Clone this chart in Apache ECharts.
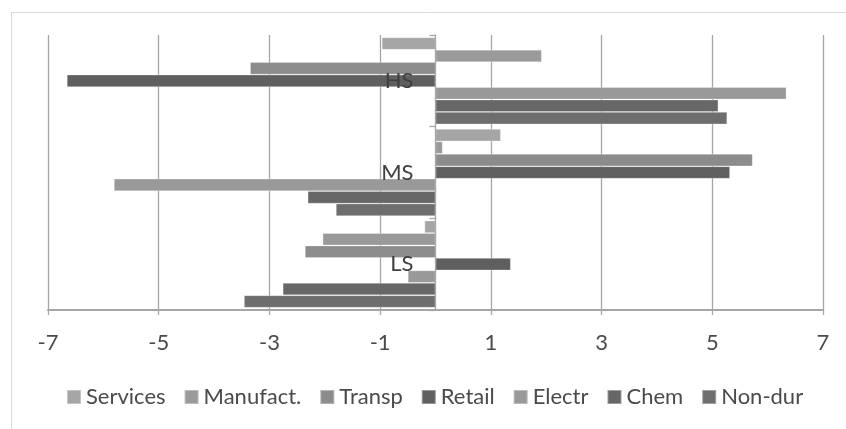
<!DOCTYPE html>
<html>
<head>
<meta charset="utf-8">
<script src="https://cdn.jsdelivr.net/npm/echarts@6/dist/echarts.min.js"></script>
<style>
  html, body { margin: 0; padding: 0; background: #ffffff; }
  #chart { width: 846px; height: 429px; }
</style>
</head>
<body>
<div id="chart"></div>
<script>
// Skill groups, bottom to top on the category axis
const categories = ['LS', 'MS', 'HS'];

// Sector names, in legend order
const sectorNames = ['Services', 'Manufact.', 'Transp', 'Retail', 'Electr', 'Chem', 'Non-dur'];

// Values per sector for LS, MS, HS
const services = [-0.20, 1.18, -0.97];
const manufact = [-2.04, 0.13, 1.92];
const transp   = [-2.36, 5.73, -3.35];
const retail   = [1.36, 5.32, -6.66];
const electr   = [-0.50, -5.81, 6.34];
const chem     = [-2.76, -2.31, 5.11];
const nonDur   = [-3.46, -1.80, 5.27];

// Value axis ticks
const xMin = -7, xMax = 7, xStep = 2;

const sectorValues = [services, manufact, transp, retail, electr, chem, nonDur];
const sectorColors = ['#a5a5a5', '#9a9a9a', '#8c8c8c', '#5f5f5f', '#999999', '#676767', '#6e6e6e'];

const FONT = 'Lato';
const TEXT = '#4a4a4a';
const AXIS = '#a6a6a6';

const GRID_LEFT = 48, GRID_RIGHT = 23;
const PLOT_W = 846 - GRID_LEFT - GRID_RIGHT;
// distance from the plot's left edge to the zero line, where the category axis sits
const zeroShift = PLOT_W * (0 - xMin) / (xMax - xMin);

const chart = echarts.init(document.getElementById('chart'), null, { renderer: 'canvas' });

chart.setOption({
  animation: false,
  textStyle: { fontFamily: FONT },
  graphic: [{
    type: 'rect',
    shape: { x: 11.5, y: 12.5, width: 860, height: 440 },
    style: { fill: 'none', stroke: '#d9d9d9', lineWidth: 1 },
    silent: true,
    z: -10
  }],
  grid: { left: GRID_LEFT, right: GRID_RIGHT, top: 35, bottom: 119, containLabel: false },
  legend: {
    data: sectorNames,
    top: 381,
    left: 61,
    icon: 'rect',
    itemWidth: 14,
    itemHeight: 14,
    itemGap: 18,
    textStyle: { fontFamily: FONT, fontSize: 22, color: TEXT }
  },
  xAxis: {
    type: 'value',
    min: xMin,
    max: xMax,
    interval: xStep,
    axisLine: { show: true, lineStyle: { color: AXIS, width: 2 } },
    axisTick: { show: true, length: 5, lineStyle: { color: AXIS, width: 1.3 } },
    splitLine: { show: true, lineStyle: { color: AXIS, width: 1.3 } },
    axisLabel: { fontFamily: FONT, fontSize: 22, color: TEXT, margin: 22 }
  },
  yAxis: {
    type: 'category',
    data: categories,
    z: 5,
    offset: -zeroShift,
    axisLine: { show: true, onZero: false, lineStyle: { color: AXIS, width: 1.3 } },
    axisTick: { show: true, length: 6, lineStyle: { color: AXIS, width: 1.3 } },
    axisLabel: { fontFamily: FONT, fontSize: 22, color: '#404040', margin: 22 }
  },
  series: sectorNames.map((name, i) => ({
    name: name,
    type: 'bar',
    data: sectorValues[i],
    barGap: '0%',
    barCategoryGap: '5%',
    itemStyle: {
      color: sectorColors[i],
      borderColor: 'rgba(255,255,255,0.35)',
      borderWidth: 0.8
    }
  }))
});
</script>
</body>
</html>
